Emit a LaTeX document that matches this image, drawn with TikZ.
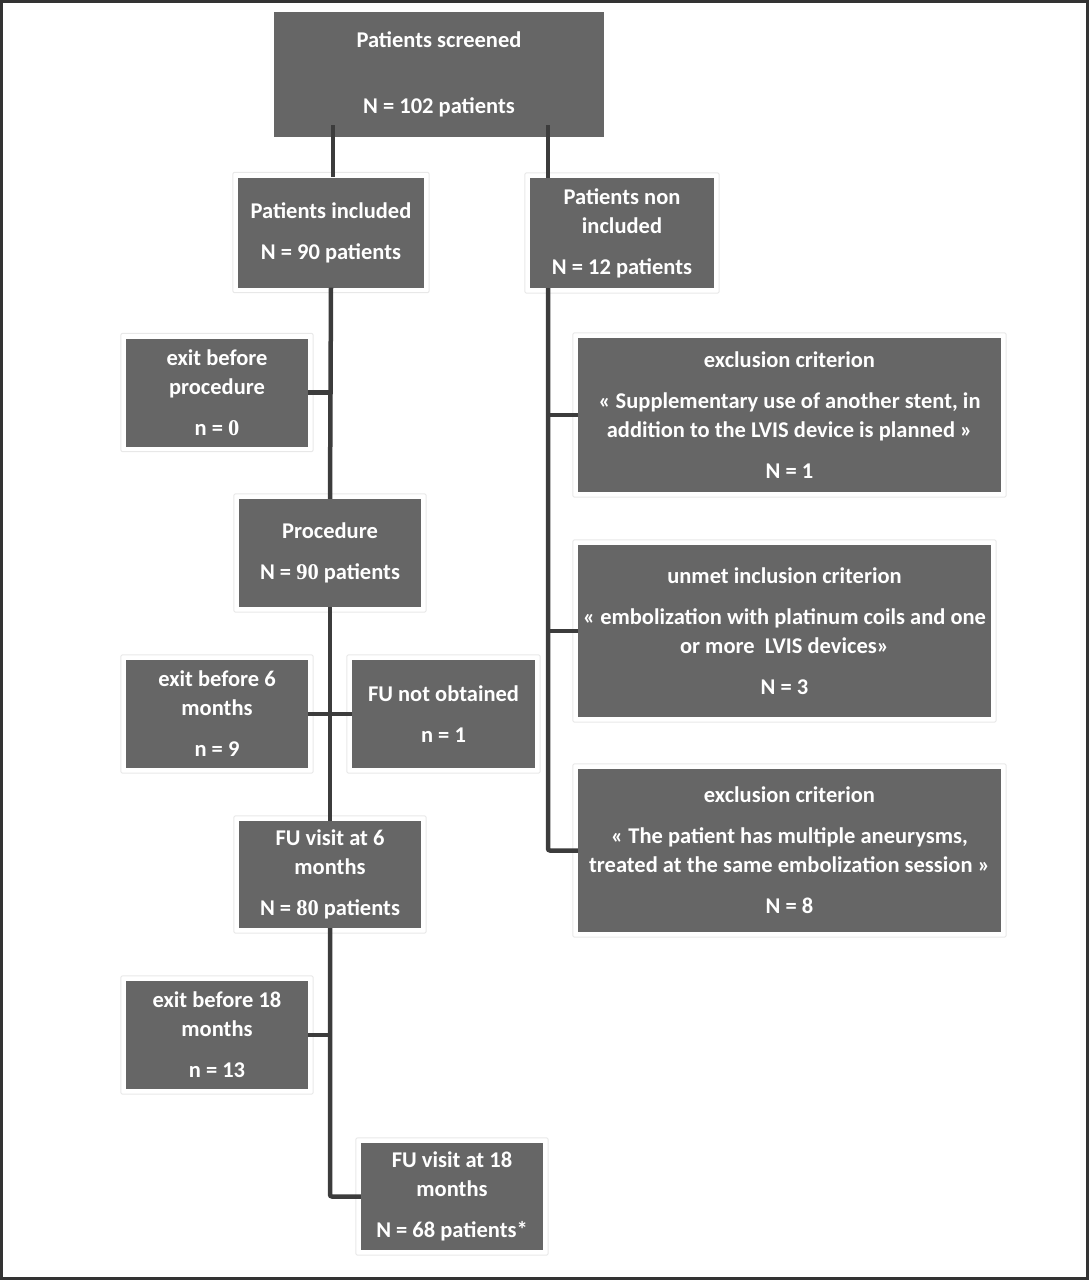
\documentclass[tikz,border=0pt]{standalone}
\usepackage{fontspec}
\setmainfont{Carlito}
\newfontfamily\numserif{Liberation Serif}
\definecolor{boxgray}{HTML}{666666}
\definecolor{linegray}{HTML}{3C3C3C}
\definecolor{framegray}{HTML}{333333}
\begin{document}
\begin{tikzpicture}[x=1pt,y=-1pt,
  box/.style={fill=boxgray, text=white, font=\bfseries\fontsize{22.5}{29}\selectfont, align=center, inner sep=0pt, draw=none},
  conn/.style={draw=linegray, line width=4.5pt, rounded corners=2pt},
  halo/.style={draw=black!9, line width=1pt, rounded corners=2pt},
  frame/.style={draw=framegray, line width=3pt}]
\useasboundingbox (0,0) rectangle (1089,1280);
\draw[frame] (1.5,1.5) rectangle (1087.5,1278.5);

\node[box, minimum width=330pt, minimum height=125pt] (scr) at (439,74.5) {Patients screened\\[37pt]N = 102 patients};
\node[box, minimum width=186pt, minimum height=110pt] (inc) at (331,232.5) {Patients included\\[12pt]N = 90 patients};
\node[box, minimum width=184pt, minimum height=110pt] (noninc) at (622,233) {Patients non\\included\\[12pt]N = 12 patients};
\node[box, minimum width=182pt, minimum height=108pt] (exitproc) at (217,392.5) {exit before\\procedure\\[12pt]n = {\numserif 0}};
\node[box, minimum width=182pt, minimum height=108pt] (proc) at (330,553) {Procedure\\[12pt]N = {\numserif 90} patients};
\node[box, minimum width=182pt, minimum height=108pt] (exit6) at (217,714) {exit before 6\\months\\[12pt]n = 9};
\node[box, minimum width=183pt, minimum height=108pt] (funo) at (443.5,714) {FU not obtained\\[12pt]n = 1};
\node[box, minimum width=182pt, minimum height=107pt] (fu6) at (330,874.5) {FU visit at 6\\months\\[12pt]N = {\numserif 80} patients};
\node[box, minimum width=182pt, minimum height=108pt] (exit18) at (217,1035) {exit before 18\\months\\[12pt]n = 13};
\node[box, minimum width=182pt, minimum height=107pt] (fu18) at (452,1196.5) {FU visit at 18\\months\\[12pt]N = 68 patients*};
\node[box, minimum width=423pt, minimum height=154pt] (ex1) at (789.5,415) {exclusion criterion\\[12pt]«~Supplementary use of another stent, in\\addition to the LVIS device is planned~»\\[12pt]N = 1};
\node[box, minimum width=413pt, minimum height=172pt] (unmet) at (784.5,631) {unmet inclusion criterion\\[12pt]«~embolization with platinum coils and one\\or more\ \ LVIS devices»\\[12pt]N = 3};
\node[box, minimum width=423pt, minimum height=163pt] (ex3) at (789.5,850.5) {exclusion criterion\\[12pt]«~The patient has multiple aneurysms,\\treated at the same embolization session~»\\[12pt]N = 8};

\foreach \n in {inc,noninc,exitproc,proc,exit6,funo,fu6,exit18,fu18,ex1,unmet,ex3}
  \draw[halo] ([shift={(-5,-5)}]\n.north west) rectangle ([shift={(5,5)}]\n.south east);

\coordinate (sL) at (333,125);
\coordinate (sR) at (548,125);
\coordinate (rtop) at (noninc.south -| sR);

\draw[conn] (sL) -- (sL |- inc.north);
\draw[conn] (sR) -- (sR |- noninc.north);

\draw[conn] (inc.south) -- (proc.north);
\draw[conn] (proc.south) -- (fu6.north);
\draw[conn] (fu6.south) |- (fu18.west);
\draw[conn] (exitproc.east) -- (exitproc.east -| inc.south);
\draw[conn] (exit6.east) -- (funo.west);
\draw[conn] (exit18.east) -- (exit18.east -| fu6.south);

\draw[conn] (rtop) |- (ex3.west);
\draw[conn] (ex1.west) -- (ex1.west -| rtop);
\draw[conn] (unmet.west) -- (unmet.west -| rtop);
\end{tikzpicture}
\end{document}
